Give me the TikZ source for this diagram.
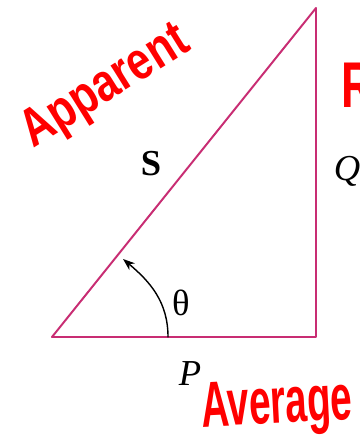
\documentclass[tikz,border=0pt]{standalone}
\usepackage{fontspec}
\setmainfont{Liberation Serif}
\newfontfamily\handfont{Liberation Sans}
\usepackage{tikz}
\usetikzlibrary{arrows.meta}
\usepackage{xcolor}
\definecolor{tri}{RGB}{200,45,115}

\begin{document}
\begin{tikzpicture}[>={Stealth[length=3mm,width=2.2mm]},line cap=round,
  side/.style={tri,line width=1.4pt},
  lbl/.style={font=\fontsize{26}{30}\selectfont},
  hand/.style={red,font=\handfont\fontsize{46}{50}\selectfont\bfseries,inner sep=0pt}]
\useasboundingbox (0,0) rectangle (8.975,11);
\coordinate (o) at (1.3,2.575);
\coordinate (b) at (7.9,2.575);
\coordinate (t) at (7.9,10.8);
\draw[side,line join=round] (o) -- (b) -- (t) -- cycle;
\coordinate (arcA) at (4.2,2.575);
\coordinate (arcB) at (3.075,4.525);
\draw[->,line width=1pt] (arcA) to[out=90,in=-40] (arcB);
\node[lbl] (s) at (3.775,6.9) {\textbf{S}};
\node[lbl] (q) at (8.675,6.725) {\textit{Q}};
\node[lbl] (th) at (4.525,3.425) {θ};
\node[lbl] (p) at (4.75,1.65) {\textit{P}};
% handwritten notes
\node[hand,font=\handfont\fontsize{38}{42}\selectfont\bfseries,rotate=32,xscale=0.8] (app) at (2.65,8.8) {Apparent};
\node[hand,rotate=3,xscale=0.6] (avg) at (6.925,0.8) {Average};
\node[hand,xscale=0.7] (r) at (8.95,8.875) {R};
\end{tikzpicture}
\end{document}
